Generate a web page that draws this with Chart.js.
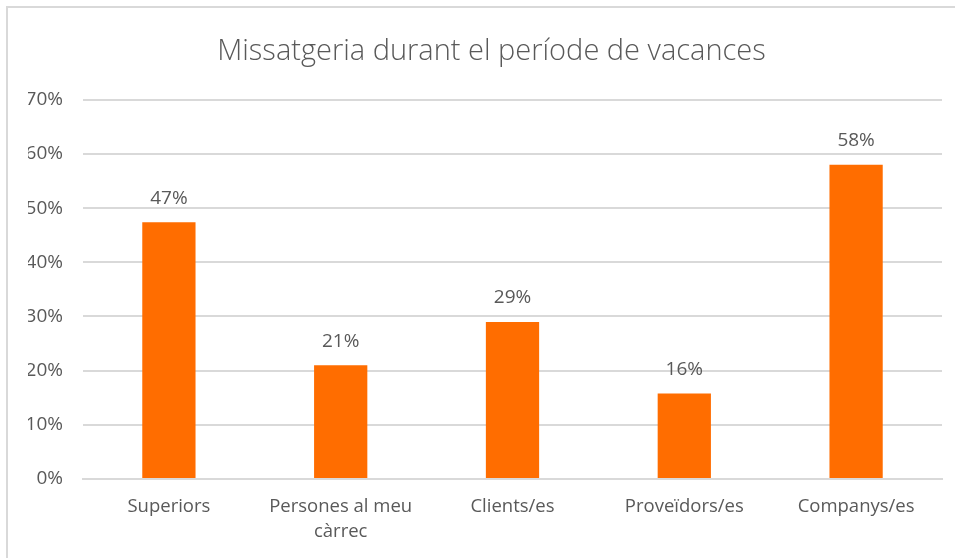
<!DOCTYPE html>
<html>
<head>
<meta charset="utf-8">
<script src="https://cdn.jsdelivr.net/npm/chart.js@4.4.0/dist/chart.umd.min.js"></script>
<style>
  html, body { margin: 0; padding: 0; background: #fff; }
  #wrap { position: relative; width: 955px; height: 558px; }
  canvas { display: block; }
</style>
</head>
<body>
<div id="wrap"><canvas id="c" width="955" height="558"></canvas></div>
<script>
const categories = ["Superiors", ["Persones al meu", "càrrec"], "Clients/es", "Proveïdors/es", "Companys/es"];
const values = [47.4, 21, 29, 15.8, 58];
const yTicks = [0, 10, 20, 30, 40, 50, 60, 70];
const titleText = "Missatgeria durant el període de vacances";

const FONT = "'Open Sans', 'DejaVu Sans', sans-serif";
const GREY = "#595959";

const borderPlugin = {
  id: 'frame',
  beforeDraw(chart) {
    const ctx = chart.ctx;
    ctx.save();
    ctx.strokeStyle = '#d9d9d9';
    ctx.lineWidth = 2;
    ctx.beginPath();
    ctx.moveTo(7, chart.height);
    ctx.lineTo(7, 7);
    ctx.lineTo(chart.width, 7);
    ctx.stroke();
    ctx.restore();
  }
};

const labelPlugin = {
  id: 'barLabels',
  afterDatasetsDraw(chart) {
    const ctx = chart.ctx;
    const meta = chart.getDatasetMeta(0);
    ctx.save();
    ctx.fillStyle = GREY;
    ctx.font = "19px " + FONT;
    ctx.textAlign = 'center';
    ctx.textBaseline = 'middle';
    meta.data.forEach((bar, i) => {
      ctx.fillText(Math.round(values[i]) + '%', bar.x, bar.y - 24);
    });
    ctx.restore();
  }
};

new Chart(document.getElementById('c'), {
  type: 'bar',
  data: {
    labels: categories,
    datasets: [{
      data: values,
      backgroundColor: '#ff6d00',
      borderWidth: 0,
      barPercentage: 0.31,
      categoryPercentage: 1.0
    }]
  },
  options: {
    responsive: false,
    animation: false,
    layout: { padding: { left: 28, right: 0, top: 0, bottom: 0 } },
    plugins: {
      legend: { display: false },
      tooltip: { enabled: false },
      title: {
        display: true,
        text: titleText,
        color: GREY,
        font: { family: FONT, size: 29, weight: '300' },
        padding: { top: 34, bottom: 31 }
      }
    },
    scales: {
      x: {
        grid: { display: false, drawTicks: false },
        border: { display: true, color: '#d9d9d9', width: 2 },
        ticks: {
          color: GREY,
          font: { family: FONT, size: 18.5, lineHeight: 1.35 },
          padding: 15,
          maxRotation: 0,
          autoSkip: false
        },
        afterFit(axis) { axis.height = 79; }
      },
      y: {
        min: 0,
        max: 70,
        afterBuildTicks(axis) { axis.ticks = yTicks.map(v => ({ value: v })); },
        grid: { color: '#d9d9d9', lineWidth: 2, drawTicks: false },
        border: { display: false },
        ticks: {
          color: GREY,
          font: { family: FONT, size: 19 },
          padding: 20,
          callback: v => v + '%'
        },
        afterFit(axis) { axis.width = 55; }
      },
      yRightSpacer: {
        position: 'right',
        display: true,
        min: 0,
        max: 70,
        grid: { display: false, drawTicks: false },
        border: { display: false },
        ticks: { display: false },
        afterFit(axis) { axis.width = 13; }
      }
    }
  },
  plugins: [borderPlugin, labelPlugin]
});
</script>
</body>
</html>
